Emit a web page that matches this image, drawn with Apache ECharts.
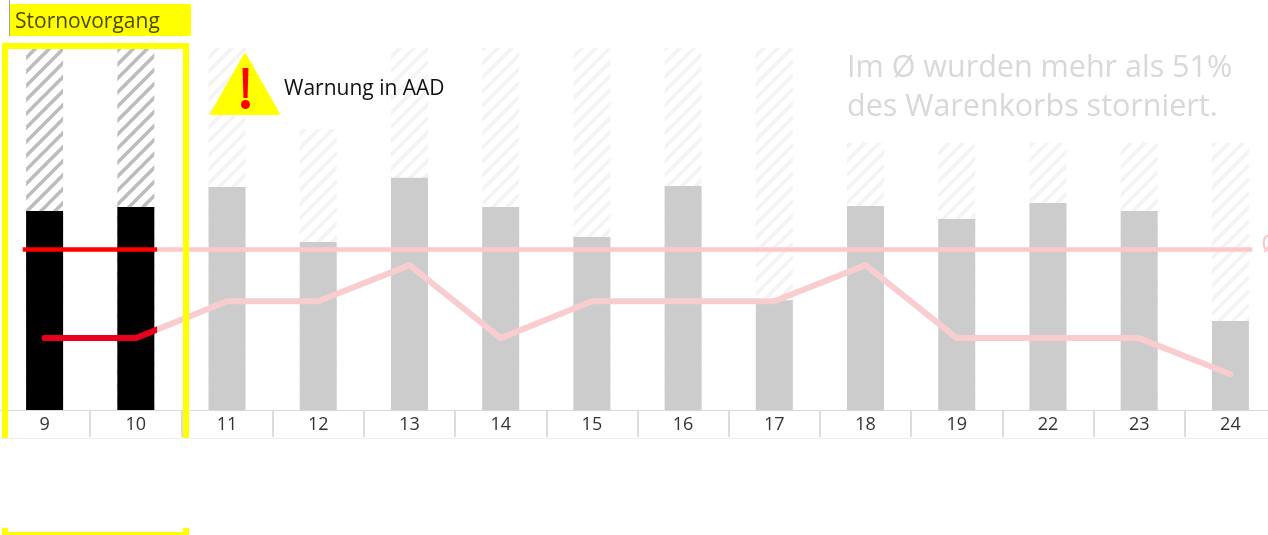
<!DOCTYPE html>
<html>
<head>
<meta charset="utf-8">
<title>Stornovorgang</title>
<script src="https://cdn.jsdelivr.net/npm/echarts@6/dist/echarts.min.js"></script>
<style>
	html, body { margin: 0; padding: 0; background: #fff; overflow: hidden; }
	#chart { width: 1268px; height: 535px; }
</style>
</head>
<body>
<div id="chart"></div>
<script>
	var categories = ['9', '10', '11', '12', '13', '14', '15', '16', '17', '18', '19', '22', '23', '24'];
	var barValues = [5.45, 5.56, 6.11, 4.6, 6.36, 5.56, 4.74, 6.14, 3.01, 5.59, 5.23, 5.67, 5.45, 2.44];
	var hatchValues = [9.92, 9.92, 9.92, 7.7, 9.92, 9.92, 9.92, 9.92, 9.92, 7.32, 7.32, 7.32, 7.32, 7.32];
	var lineValues = [1.97, 1.97, 2.98, 2.98, 3.97, 1.97, 2.98, 2.98, 2.98, 3.97, 1.97, 1.97, 1.97, 0.98];
	var averageValue = 4.4;
	var averageFrom = 0.26;
	var averageTo = 13.74;
	var activeCount = 2;

	/* stripes */
	function stripes(color) {
		var c = document.createElement('canvas');
		c.width = 14;
		c.height = 14;
		var g = c.getContext('2d');
		g.strokeStyle = color;
		g.lineWidth = 3.6;
		g.beginPath();
		g.moveTo(-5, 5);
		g.lineTo(5, -5);
		g.moveTo(0, 14);
		g.lineTo(14, 0);
		g.moveTo(9, 19);
		g.lineTo(19, 9);
		g.stroke();
		return c;
	}
	var hatchDark = { image: stripes('#bdbdbd'), repeat: 'repeat' };
	var hatchLight = { image: stripes('#f3f3f3'), repeat: 'repeat' };

	/* red up to the end of the highlighted block, pink after it */
	function splitColor(red, pink) {
		var cut = 157 / 1268;
		return {
			type: 'linear', x: 0, y: 0, x2: 1268, y2: 0, global: true,
			colorStops: [
				{ offset: 0, color: red },
				{ offset: cut, color: red },
				{ offset: cut, color: pink },
				{ offset: 1, color: pink }
			]
		};
	}

	var yellow = '#ffff00';
	var chart = echarts.init(document.getElementById('chart'));
	var option = {
		animation: false,
		grid: { left: -1, width: 1277, top: 45, height: 365, outerBoundsMode: 'none' },
		xAxis: [{
			type: 'category',
			data: categories,
			offset: 1,
			axisLine: { lineStyle: { color: '#d9d9d9', width: 1 } },
			axisTick: { show: true, length: 27, lineStyle: { color: '#dcdcdc', width: 2 } },
			axisLabel: { color: '#333', fontFamily: 'Open Sans', fontSize: 18, margin: 5 }
		}, {
			type: 'value',
			min: 0,
			max: categories.length,
			show: false
		}, {
			type: 'category',
			data: categories,
			offset: 124,
			axisLine: { lineStyle: { color: '#dcdcdc', width: 1 } },
			axisTick: { show: true, inside: true, length: 6, lineStyle: { color: '#dcdcdc', width: 2 } },
			axisLabel: { show: false }
		}],
		yAxis: { type: 'value', min: 0, max: 10, show: false },
		series: [{
			type: 'bar',
			barWidth: 37,
			barGap: '-100%',
			data: hatchValues.map(function(v, i) {
				return { value: v, itemStyle: { color: i < activeCount ? hatchDark : hatchLight } };
			})
		}, {
			type: 'bar',
			barWidth: 37,
			barGap: '-100%',
			data: barValues.map(function(v, i) {
				return { value: v, itemStyle: { color: i < activeCount ? '#000' : '#cccccc' } };
			})
		}, {
			type: 'line',
			xAxisIndex: 1,
			symbol: 'none',
			data: [[averageFrom, averageValue], [averageTo, averageValue]],
			lineStyle: { width: 4.5, color: splitColor('#ff0000', '#fcc9c9') },
			z: 3
		}, {
			type: 'line',
			symbol: 'none',
			data: lineValues,
			lineStyle: { width: 6, cap: 'round', join: 'round', color: splitColor('#e8001c', '#f9cdd0') },
			z: 4
		}],
		graphic: [
			/* header */
			{ type: 'rect', shape: { x: 10, y: 4, width: 181, height: 32 }, style: { fill: yellow }, z: 20 },
			{ type: 'rect', shape: { x: 9, y: 0, width: 1, height: 36 }, style: { fill: '#a0a0a0' }, z: 20 },
			{ type: 'text', x: 15, y: 12, z: 21, style: { text: 'Stornovorgang', fill: '#4a4a00', font: '21px "Open Sans"' } },
			/* table bottom line */
			{ type: 'rect', shape: { x: 0, y: 438, width: 1268, height: 1 }, style: { fill: '#eeeeee' }, z: 5 },
			/* yellow frame */
			{ type: 'rect', shape: { x: 2, y: 43, width: 187, height: 6 }, style: { fill: yellow }, z: 20 },
			{ type: 'rect', shape: { x: 2, y: 43, width: 6, height: 395 }, style: { fill: yellow }, z: 20 },
			{ type: 'rect', shape: { x: 183, y: 43, width: 6, height: 395 }, style: { fill: yellow }, z: 20 },
			{ type: 'rect', shape: { x: 2, y: 532, width: 187, height: 3 }, style: { fill: yellow }, z: 20 },
			{ type: 'rect', shape: { x: 2, y: 528, width: 6, height: 7 }, style: { fill: yellow }, z: 20 },
			{ type: 'rect', shape: { x: 183, y: 528, width: 6, height: 7 }, style: { fill: yellow }, z: 20 },
			/* warning */
			{
				type: 'polygon', z: 20,
				shape: { points: [[245, 54], [279, 114], [211, 114]] },
				style: { fill: yellow, stroke: yellow, lineWidth: 2, lineJoin: 'round' }
			},
			{ type: 'polygon', z: 21, shape: { points: [[242.5, 68], [248.5, 68], [247.5, 98], [243.5, 98]] }, style: { fill: '#ff0000' } },
			{ type: 'circle', z: 21, shape: { cx: 245.5, cy: 104.5, r: 4.5 }, style: { fill: '#ff0000' } },
			{ type: 'text', x: 284, y: 79, z: 21, style: { text: 'Warnung in AAD', fill: '#111', font: '21px "Open Sans"' } },
			/* comment */
			{
				type: 'text', x: 847, y: 48.5, z: 21,
				style: { text: 'Im Ø wurden mehr als 51%\ndes Warenkorbs storniert.', fill: '#d8d8d8', font: '30.5px "Open Sans"', lineHeight: 39 }
			},
			{ type: 'text', x: 1261, y: 232, z: 21, style: { text: 'Ø', fill: '#fcc9c9', font: '26px "Open Sans"' } }
		]
	};
	chart.setOption(option);
</script>
</body>
</html>
